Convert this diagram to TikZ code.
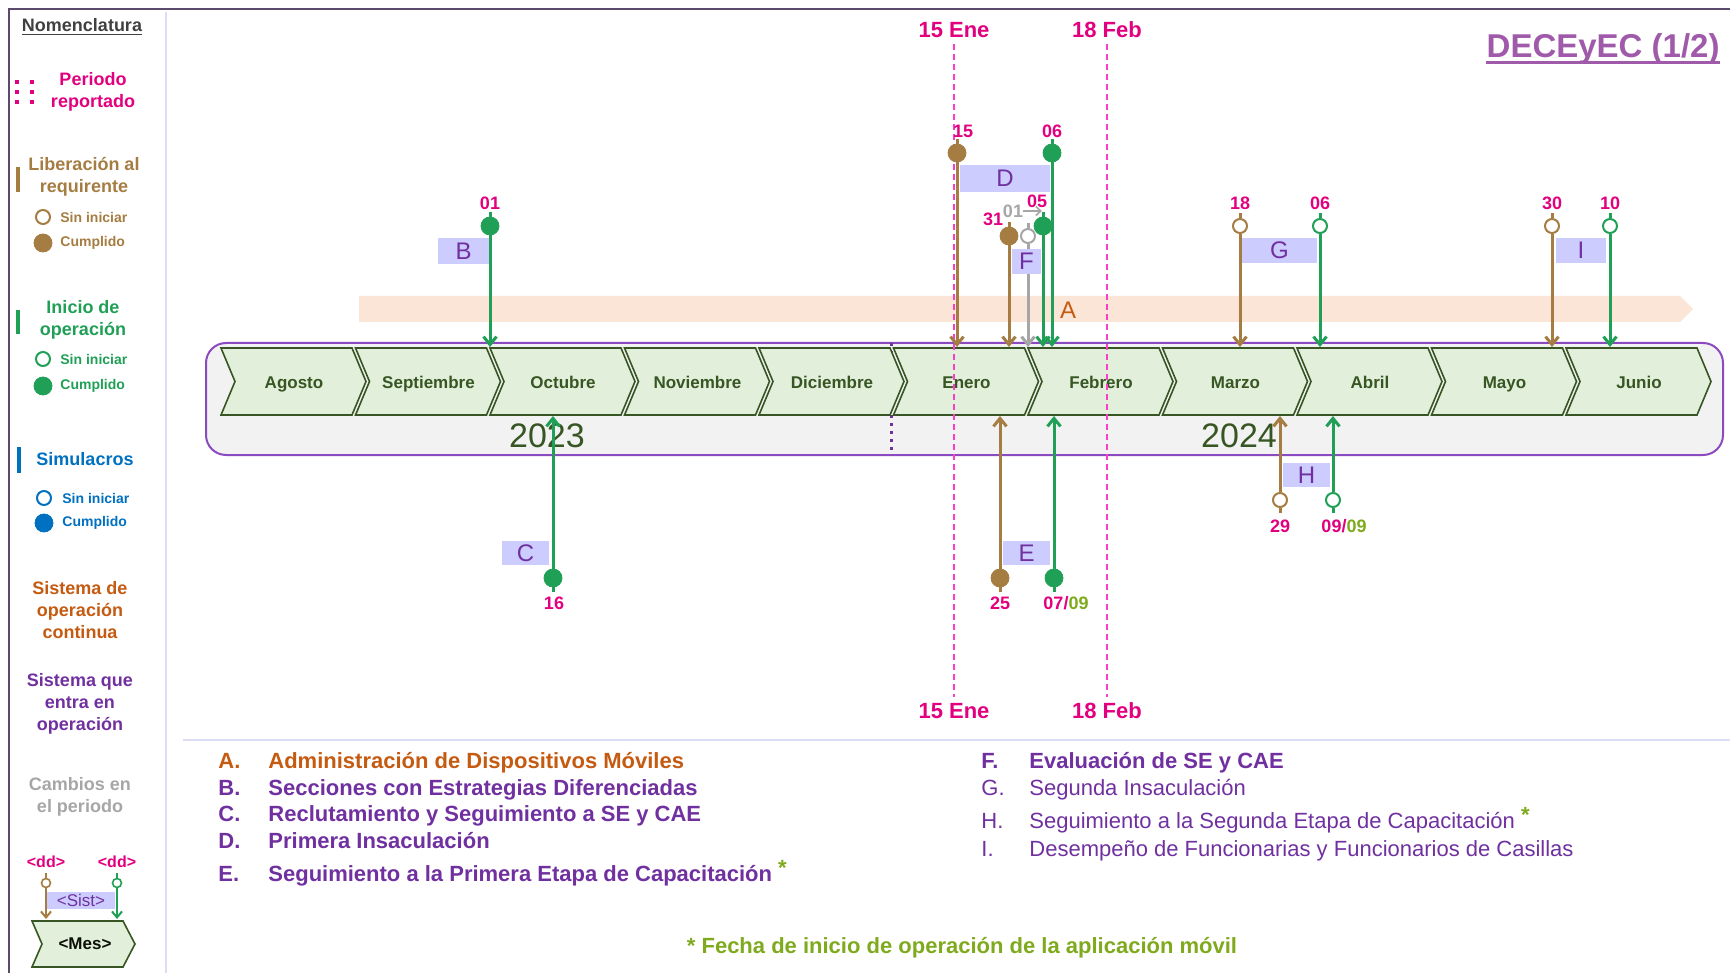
\documentclass[tikz,border=0pt]{standalone}
\usepackage{fontspec}
\setmainfont{Liberation Sans}
\usetikzlibrary{arrows.meta}

\definecolor{rosa}{HTML}{E2007F}
\definecolor{rosaln}{HTML}{FF3CC8}
\definecolor{cafe}{HTML}{A57C42}
\definecolor{verde}{HTML}{20A056}
\definecolor{azul}{HTML}{0070C0}
\definecolor{naranja}{HTML}{C55A11}
\definecolor{morado}{HTML}{7030A0}
\definecolor{lila}{HTML}{CCCCFF}
\definecolor{durazno}{HTML}{FBE5D6}
\definecolor{mesfill}{HTML}{E2EFDA}
\definecolor{mesln}{HTML}{375623}
\definecolor{gris}{HTML}{A6A6A6}
\definecolor{gristxt}{HTML}{404040}
\definecolor{oliva}{HTML}{7FAA1E}
\definecolor{titulo}{HTML}{A05AAA}
\definecolor{marco}{HTML}{5B4A6B}
\definecolor{fondo}{HTML}{F2F2F2}
\definecolor{borde}{HTML}{8C4AC0}
\definecolor{sep}{HTML}{DCDCF5}

\tikzset{
  >={Straight Barb[length=4pt,width=6.5pt]},
  mes/.style={draw=mesln, fill=mesfill, line width=0.8pt},
  mestxt/.style={inner sep=0pt, text=mesln, font=\bfseries\fontsize{8.5}{10}\selectfont},
  fecha/.style={inner sep=0pt, text=rosa, font=\bfseries\fontsize{9}{10}\selectfont},
  lleno/.style={circle, draw=#1, fill=#1, minimum size=9pt, inner sep=0pt},
  hueco/.style={circle, draw=#1, fill=white, line width=1pt, minimum size=7pt, inner sep=0pt},
  flecha/.style={->, line width=1.5pt},
  letra/.style={inner sep=0pt, text=morado, font=\fontsize{12}{14}\selectfont},
  leyenda/.style={anchor=base west, inner sep=0pt, text=morado, font=\fontsize{11}{13}\selectfont},
  nomen/.style={align=center, inner sep=0pt, font=\bfseries\fontsize{9}{11}\selectfont},
  nomchico/.style={anchor=west, inner sep=0pt, font=\bfseries\fontsize{7}{8}\selectfont},
  corte/.style={rosaln, line width=1pt, dash pattern=on 3pt off 2pt, shorten >=3pt, shorten <=3pt},
}

\begin{document}
\begin{tikzpicture}[x=0.5pt, y=-0.5pt]
  \useasboundingbox (0,0) rectangle (1730,973);
  % marco y separadores
  \draw[marco, line width=1pt] (9,973) -- (9,9) -- (1730,9);
  \draw[sep, line width=1pt] (166,12) -- (166,973);
  \draw[sep, line width=1pt] (183,740) -- (1730,740);
  \node[anchor=base east, inner sep=0pt, text=titulo, font=\bfseries\fontsize{16.5}{20}\selectfont]
    (titulo) at (1720,58) {DECEyEC (1/2)};
  \draw[titulo, line width=1.2pt] ([yshift=-2.2pt]titulo.base west) -- ([yshift=-2.2pt]titulo.base east);

  % nomenclatura
  \node[nomen, text=gristxt] (nomen) at (82,27) {\underline{Nomenclatura}};
  \draw[rosa, line width=2pt, dash pattern=on 2pt off 3pt] (17,80) -- (17,106);
  \draw[rosa, line width=2pt, dash pattern=on 2pt off 3pt] (32,80) -- (32,106);
  \node[nomen, text=rosa] (periodo) at (93,92) {Periodo\\reportado};
  \draw[cafe, line width=2pt] (18,167) -- (18,192);
  \node[nomen, text=cafe] (liber) at (84,177) {Liberación al\\requirente};
  \node[hueco=cafe] (lib0) at (43,217) {};
  \node[lleno=cafe] (lib1) at (43,243) {};
  \node[nomchico, text=cafe] at (60,217) {Sin iniciar};
  \node[nomchico, text=cafe] at (60,243) {Cumplido};
  \draw[verde, line width=2pt] (18,310) -- (18,334);
  \node[nomen, text=verde] (inicio) at (83,320) {Inicio de\\operación};
  \node[hueco=verde] (ini0) at (43,359) {};
  \node[lleno=verde] (ini1) at (43,386) {};
  \node[nomchico, text=verde] at (60,359) {Sin iniciar};
  \node[nomchico, text=verde] at (60,386) {Cumplido};
  \draw[azul, line width=2pt] (19,447) -- (19,473);
  \node[nomen, text=azul] (simul) at (85,459) {Simulacros};
  \node[hueco=azul] (sim0) at (44,498) {};
  \node[lleno=azul] (sim1) at (44,523) {};
  \node[nomchico, text=azul] at (62,498) {Sin iniciar};
  \node[nomchico, text=azul] at (62,523) {Cumplido};
  \node[nomen, text=naranja] (contin) at (80,610) {Sistema de\\operación\\continua};
  \node[nomen, text=morado] (entra) at (80,704) {Sistema que\\entra en\\operación};
  \node[nomen, text=gris] (cambios) at (80,797) {Cambios en\\el periodo};

  % ejemplo
  \fill[lila] (47,892) rectangle (115,909);
  \node[inner sep=0pt, text=morado, font=\fontsize{8.5}{10}\selectfont] (sist) at (81,900) {<Sist>};
  \node[fecha, font=\bfseries\fontsize{8}{9}\selectfont] (dd1) at (46,862) {<dd>};
  \node[fecha, font=\bfseries\fontsize{8}{9}\selectfont] (dd2) at (117,862) {<dd>};
  \draw[mes] (32,921) -- (123,921) -- (135,944) -- (123,967) -- (32,967) -- (42,944) -- cycle;
  \node[mestxt, text=black!80!mesln] (mesej) at (85,944) {<Mes>};
  \node[hueco=cafe, minimum size=4.5pt, line width=0.8pt] (ej1) at (46,883) {};
  \node[hueco=verde, minimum size=4.5pt, line width=0.8pt] (ej2) at (117,883) {};
  \coordinate (ej1e) at (46,919);
  \coordinate (ej2e) at (117,919);
  \draw[cafe, line width=1pt, -{Straight Barb[length=3pt,width=5pt]}] (ej1) -- (ej1e);
  \draw[verde, line width=1pt, -{Straight Barb[length=3pt,width=5pt]}] (ej2) -- (ej2e);
  \draw[cafe, line width=1pt] (ej1.north) -- ++(0,-5);
  \draw[verde, line width=1pt] (ej2.north) -- ++(0,-5);

  % sistema continuo
  \fill[durazno] (359,296) -- (1680,296) -- (1693,309) -- (1680,322) -- (359,322) -- cycle;
  \node[inner sep=0pt, text=naranja, font=\fontsize{12}{14}\selectfont] (bandaA) at (1068,310) {A};

  % linea de tiempo
  \draw[borde, fill=fondo, line width=1pt, rounded corners=10pt] (206,343) rectangle (1723,455);
  \draw[morado, line width=1.5pt, dash pattern=on 1.5pt off 2.5pt] (891,343) -- (891,452);
  \foreach \m [count=\i from 0] in {Agosto,Septiembre,Octubre,Noviembre,Diciembre,Enero,Febrero,Marzo,Abril,Mayo,Junio}{
    \pgfmathsetmacro{\xo}{221+134.5*\i}
    \draw[mes] (\xo,348) -- ++(131,0) -- ++(14,33.5) -- ++(-14,33.5) -- ++(-131,0) -- ++(14,-33.5) -- cycle;
    \node[mestxt, anchor=base] (mes\i) at (\xo+73,388) {\m};
  }
  \node[inner sep=0pt, text=mesln, font=\fontsize{17}{20}\selectfont] (y2023) at (547,436) {2023};
  \node[inner sep=0pt, text=mesln, font=\fontsize{17}{20}\selectfont] (y2024) at (1239,436) {2024};

  % periodo reportado
  \node[fecha, font=\bfseries\fontsize{11}{13}\selectfont] (eneA) at (954,30) {15 Ene};
  \node[fecha, font=\bfseries\fontsize{11}{13}\selectfont] (eneB) at (954,711) {15 Ene};
  \node[fecha, font=\bfseries\fontsize{11}{13}\selectfont] (febA) at (1107,30) {18 Feb};
  \node[fecha, font=\bfseries\fontsize{11}{13}\selectfont] (febB) at (1107,711) {18 Feb};
  \draw[corte] (eneA) -- (eneB);
  \draw[corte] (febA) -- (febB);

  % fechas arriba
  \foreach \nm/\x/\y/\col/\txt/\lx/\ly in {b1/490/226/verde/01/490/203, d1/957/153/cafe/15/963/131,
      d2/1052/153/verde/06/1052/131, d3/1009/236/cafe/31/993/219, d4/1043/226/verde/05/1037/201}{
    \node[lleno=\col] (\nm) at (\x,\y) {};
    \coordinate (\nm e) at (\x,347);
    \draw[flecha, \col] (\nm) -- (\nm e);
    \draw[\col, line width=1.5pt] (\nm.north) -- ++(0,-5);
    \node[fecha] (\nm t) at (\lx,\ly) {\txt};
  }
  \foreach \nm/\x/\y/\col/\txt/\lx/\ly in {g1/1240/226/cafe/18/1240/203, g2/1320/226/verde/06/1320/203,
      i1/1552/226/cafe/30/1552/203, i2/1610/226/verde/10/1610/203}{
    \node[hueco=\col] (\nm) at (\x,\y) {};
    \coordinate (\nm e) at (\x,347);
    \draw[flecha, \col] (\nm) -- (\nm e);
    \draw[\col, line width=1.5pt] (\nm.north) -- ++(0,-5);
    \node[fecha] (\nm t) at (\lx,\ly) {\txt};
  }
  % cambio F
  \node[hueco=gris] (f1) at (1028,236) {};
  \coordinate (f1e) at (1028,347);
  \draw[flecha, gris] (f1) -- (f1e);
  \draw[gris, line width=1.5pt] (f1.north) -- ++(0,-5);
  \node[fecha, text=gris] (f1t) at (1013,211) {01};
  \coordinate (f1f) at (1042,211);
  \draw[gris, line width=0.8pt, -{Straight Barb[length=2.5pt,width=4.5pt]}] (f1t.east) -- (f1f);

  % fechas abajo
  \foreach \nm/\x/\y/\col/\txt/\lx/\ly in {c1/553/578/verde/16/554/603, e1/1000/578/cafe/25/1000/603,
      e2/1054/578/verde/{07/\textcolor{oliva}{09}}/1066/603}{
    \node[lleno=\col] (\nm) at (\x,\y) {};
    \coordinate (\nm e) at (\x,416);
    \draw[flecha, \col] (\nm) -- (\nm e);
    \draw[\col, line width=1.5pt] (\nm.south) -- ++(0,5);
    \node[fecha] (\nm t) at (\lx,\ly) {\txt};
  }
  \foreach \nm/\x/\y/\col/\txt/\lx/\ly in {h1/1280/500/cafe/29/1280/526,
      h2/1333/500/verde/{09/\textcolor{oliva}{09}}/1344/526}{
    \node[hueco=\col] (\nm) at (\x,\y) {};
    \coordinate (\nm e) at (\x,416);
    \draw[flecha, \col] (\nm) -- (\nm e);
    \draw[\col, line width=1.5pt] (\nm.south) -- ++(0,5);
    \node[fecha] (\nm t) at (\lx,\ly) {\txt};
  }

  % cajas de sistemas
  \foreach \l/\xa/\ya/\xb/\yb in {B/438/238/489/264, C/502/541/549/565, D/960/165/1050/192,
      E/1003/541/1050/565, F/1012/249/1041/274, G/1242/238/1317/263,
      H/1283/463/1330/487, I/1556/238/1606/263}{
    \fill[lila] (\xa,\ya) rectangle (\xb,\yb);
    \node[letra] (caja\l) at ({(\xa+\xb)/2},{(\ya+\yb)/2}) {\l};
  }

  % leyenda
  \node[leyenda, text=naranja, font=\bfseries\fontsize{11}{13}\selectfont] (lA) at (218,768) {A.};
  \node[leyenda, text=naranja, font=\bfseries\fontsize{11}{13}\selectfont] (tA) at (268,768) {Administración de Dispositivos Móviles};
  \foreach \l/\y/\txt in {B/795/Secciones con Estrategias Diferenciadas,
      C/821/Reclutamiento y Seguimiento a SE y CAE, D/848/Primera Insaculación,
      E/881/{Seguimiento a la Primera Etapa de Capacitación \raisebox{3pt}{\textcolor{oliva}{*}}}}{
    \node[leyenda, font=\bfseries\fontsize{11}{13}\selectfont] (l\l) at (218,\y) {\l.};
    \node[leyenda, font=\bfseries\fontsize{11}{13}\selectfont] (t\l) at (268,\y) {\txt};
  }
  \node[leyenda, font=\bfseries\fontsize{11}{13}\selectfont] (lF) at (981,768) {F.};
  \node[leyenda, font=\bfseries\fontsize{11}{13}\selectfont] (tF) at (1029,768) {Evaluación de SE y CAE};
  \foreach \l/\y/\txt in {G/795/Segunda Insaculación,
      H/828/{Seguimiento a la Segunda Etapa de Capacitación \raisebox{3pt}{\textcolor{oliva}{\bfseries *}}},
      I/856/Desempeño de Funcionarias y Funcionarios de Casillas}{
    \node[leyenda] (l\l) at (981,\y) {\l.};
    \node[leyenda] (t\l) at (1029,\y) {\txt};
  }
  \node[inner sep=0pt, text=oliva, font=\bfseries\fontsize{11}{13}\selectfont] (nota) at (962,948)
    {* Fecha de inicio de operación de la aplicación móvil};
\end{tikzpicture}
\end{document}
